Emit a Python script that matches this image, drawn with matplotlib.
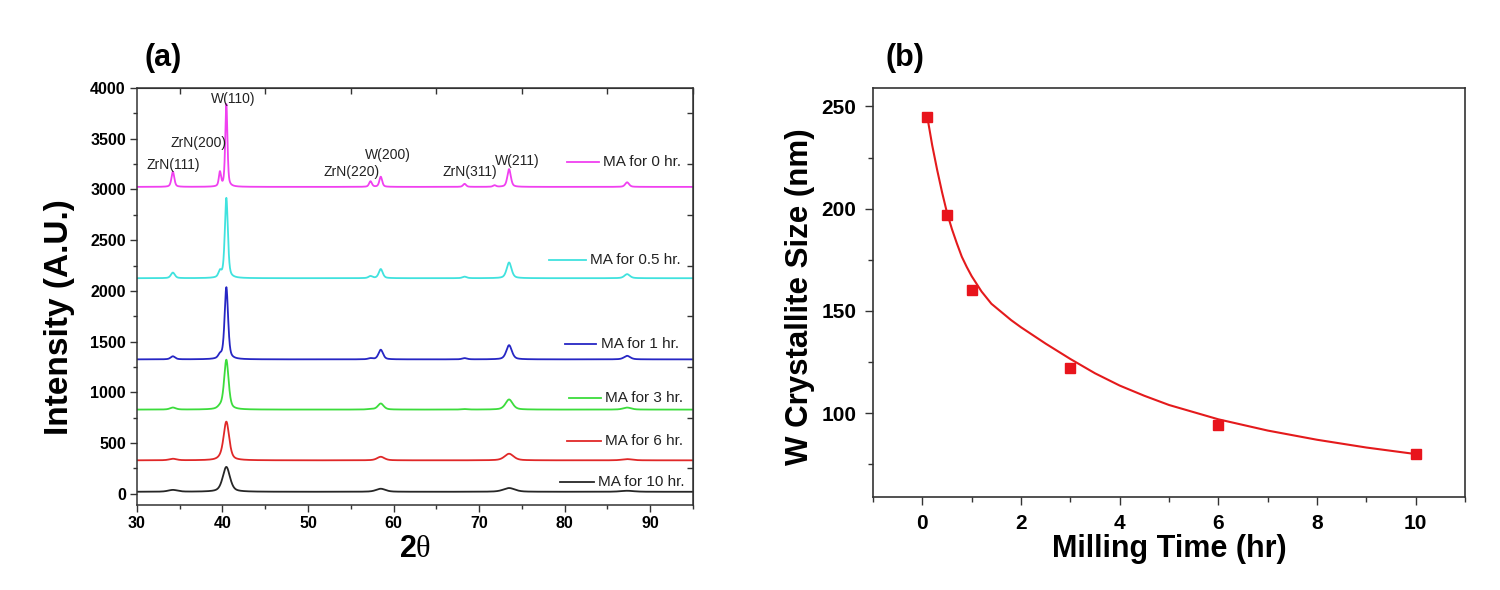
import numpy as np
import matplotlib
matplotlib.use("Agg")
import matplotlib.pyplot as plt
from matplotlib.ticker import MultipleLocator

plt.rcParams['font.family'] = ['Liberation Sans', 'DejaVu Sans']
plt.rcParams['mathtext.fontset'] = 'custom'
plt.rcParams['mathtext.rm'] = 'Liberation Serif'
plt.rcParams['mathtext.bf'] = 'Liberation Sans:bold'

# ---------------- Panel (a) data: XRD patterns ----------------
peak_pos = [34.2, 39.7, 40.45, 57.3, 58.5, 68.3, 71.8, 73.5, 87.3]
peak_width_factor = [1.3, 1.0, 1.0, 1.3, 1.3, 1.4, 1.4, 1.6, 1.8]

series_labels = ['MA for 0 hr.', 'MA for 0.5 hr.', 'MA for 1 hr.',
                 'MA for 3 hr.', 'MA for 6 hr.', 'MA for 10 hr.']
series_colors = ['#f040f0', '#40e2de', '#2626c4', '#3cdc3c', '#e02828', '#262626']
series_baseline = [3025, 2125, 1325, 830, 330, 20]
series_fwhm = [0.30, 0.42, 0.48, 0.62, 0.78, 1.0]

heights_0hr = [150, 140, 815, 55, 100, 30, 15, 175, 45]
heights_05hr = [55, 60, 790, 20, 90, 15, 0, 155, 40]
heights_1hr = [30, 35, 710, 10, 95, 12, 0, 140, 35]
heights_3hr = [20, 20, 490, 5, 60, 5, 0, 100, 20]
heights_6hr = [15, 10, 380, 0, 35, 0, 0, 65, 12]
heights_10hr = [18, 0, 245, 0, 30, 0, 0, 37, 10]
series_heights = [heights_0hr, heights_05hr, heights_1hr,
                  heights_3hr, heights_6hr, heights_10hr]

peak_labels = ['ZrN(111)', 'ZrN(200)', 'W(110)', 'ZrN(220)', 'W(200)', 'ZrN(311)', 'W(211)']
peak_label_x = [34.3, 37.2, 41.2, 55.1, 59.3, 68.9, 74.5]
peak_label_y = [3240, 3459, 3887, 3173, 3338, 3173, 3282]

# ---------------- Panel (b) data: crystallite size ----------------
milling_time = [0.1, 0.5, 1, 3, 6, 10]
crystallite_size = [245, 197, 160, 122, 94, 80]
fit_time = [0.1, 0.2, 0.3, 0.4, 0.5, 0.6, 0.7, 0.8, 0.9, 1.0, 1.2, 1.4, 1.6,
            1.8, 2.0, 2.5, 3.0, 3.5, 4.0, 4.5, 5.0, 6.0, 7.0, 8.0, 9.0, 10.0]
fit_size = [245, 231, 219, 208, 198, 190, 183, 176.5, 171.5, 167, 159.5, 153.5,
            149.5, 145.5, 142, 134, 126.5, 119.5, 113.5, 108.5, 104, 97, 91.5,
            87, 83.2, 80]

# ---------------- Figure ----------------
fig = plt.figure(figsize=(15, 5.9), dpi=100)
spine_col = '#333333'

# Panel (a)
ax = fig.add_axes([0.0913, 0.1441, 0.3707, 0.7068])
x = np.linspace(30, 95, 4000)
for lab, col, base, fw, hts in zip(series_labels, series_colors, series_baseline,
                                   series_fwhm, series_heights):
    y = np.full_like(x, float(base))
    for p, wf, h in zip(peak_pos, peak_width_factor, hts):
        w = fw * wf / 2.0
        lor = 1.0 / (1.0 + ((x - p) / w) ** 2)
        gau = np.exp(-np.log(2) * ((x - p) / w) ** 2)
        y += h * (0.5 * lor + 0.5 * gau)
    ax.plot(x, y, color=col, lw=1.3)

# manual legend beside each curve
legend_y = [3272, 2308, 1473, 941, 523, 114]
legend_x0 = [80.3, 78.2, 80.0, 80.5, 80.3, 79.5]
legend_x1 = [84.0, 82.5, 83.7, 84.2, 84.2, 83.4]
for lab, col, ly, lx0, lx1 in zip(series_labels, series_colors, legend_y, legend_x0, legend_x1):
    ax.plot([lx0, lx1], [ly, ly], color=col, lw=1.3)
    ax.text(lx1 + 0.5, ly, lab, fontsize=11, va='center', ha='left', color='#222222')

for t, px, py in zip(peak_labels, peak_label_x, peak_label_y):
    ax.text(px, py, t, fontsize=10, ha='center', va='center', color='#222222')

ax.set_xlim(30, 95)
ax.set_ylim(-110, 4000)
ax.xaxis.set_major_locator(MultipleLocator(10))
ax.xaxis.set_minor_locator(MultipleLocator(5))
ax.yaxis.set_major_locator(MultipleLocator(500))
ax.yaxis.set_minor_locator(MultipleLocator(250))
ax.tick_params(which='major', direction='out', length=5, width=1.0, color=spine_col,
               labelsize=11.5, pad=3)
ax.tick_params(which='minor', direction='out', length=3, width=1.0, color=spine_col)
for lbl in ax.get_xticklabels() + ax.get_yticklabels():
    lbl.set_fontweight('bold')
for s in ax.spines.values():
    s.set_color(spine_col)
    s.set_linewidth(1.1)

top = ax.secondary_xaxis('top')
top.set_xticks(np.arange(35, 96, 10))
top.tick_params(direction='in', length=4, width=1.0, color=spine_col, labeltop=False)
top.spines['top'].set_color(spine_col)
right = ax.secondary_yaxis('right')
right.set_yticks(np.arange(250, 4001, 500))
right.tick_params(direction='in', length=4, width=1.0, color=spine_col, labelright=False)
right.spines['right'].set_color(spine_col)

ax.set_ylabel('Intensity (A.U.)', fontsize=24, fontweight='bold')
ax.yaxis.set_label_coords(-0.111, 0.45)
ax.set_xlabel(r'$\mathbf{2}\mathrm{\theta}$', fontsize=22, labelpad=2)

fig.text(0.109, 0.902, '(a)', fontsize=22, fontweight='bold', ha='center', va='center')

# Panel (b)
bx = fig.add_axes([0.582, 0.1576, 0.3947, 0.6932])
bx.plot(fit_time, fit_size, color='#e41a1c', lw=1.5)
bx.plot(milling_time, crystallite_size, 's', color='#e8141c', markersize=6.5, lw=0)
bx.set_xlim(-1, 11)
bx.set_ylim(59, 259)
bx.xaxis.set_major_locator(MultipleLocator(2))
bx.xaxis.set_minor_locator(MultipleLocator(1))
bx.yaxis.set_major_locator(MultipleLocator(50))
bx.yaxis.set_minor_locator(MultipleLocator(25))
bx.tick_params(which='major', direction='out', length=6, width=1.0, color=spine_col,
               labelsize=15, pad=6)
bx.tick_params(which='minor', direction='out', length=3.5, width=1.0, color=spine_col)
for lbl in bx.get_xticklabels() + bx.get_yticklabels():
    lbl.set_fontweight('bold')
for s in bx.spines.values():
    s.set_color(spine_col)
    s.set_linewidth(1.2)
bx.set_xlabel('Milling Time (hr)', fontsize=22, fontweight='bold', labelpad=1)
bx.set_ylabel('W Crystallite Size (nm)', fontsize=22.5, fontweight='bold')
bx.yaxis.set_label_coords(-0.098, 0.49)

fig.text(0.603, 0.902, '(b)', fontsize=22, fontweight='bold', ha='center', va='center')

fig.savefig('out.png', dpi=100)
